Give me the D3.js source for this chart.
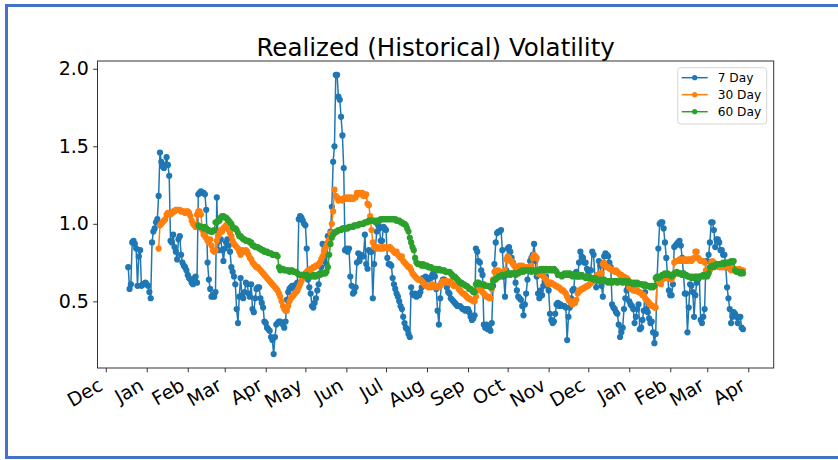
<!DOCTYPE html>
<html>
<head>
<meta charset="utf-8">
<script src="https://cdn.jsdelivr.net/npm/d3@7"></script>
<style>
  html, body { margin: 0; padding: 0; background: #ffffff; }
  svg { display: block; }
  text { font-family: "DejaVu Sans", sans-serif; }
</style>
</head>
<body>
<svg id="chart" width="838" height="460"></svg>
<script>
// ---------------- DATA ----------------
const seriesNames = ["7 Day", "30 Day", "60 Day"];
const seriesStart = ["2020-12-18", "2021-01-10", "2021-02-09"]; // first date of each daily series
const monthTicks = ["2020-12-01","2021-01-01","2021-02-01","2021-03-01","2021-04-01","2021-05-01","2021-06-01","2021-07-01","2021-08-01","2021-09-01","2021-10-01","2021-11-01","2021-12-01","2022-01-01","2022-02-01","2022-03-01","2022-04-01"];
const yTicks = [0.5, 1.0, 1.5, 2.0];

const vol7 = [
0.72,0.58,0.61,0.88,0.89,0.87,0.84,0.60,0.79,0.83,
0.60,0.61,0.61,0.62,0.61,0.60,0.56,0.52,0.88,0.95,
0.97,1.01,1.03,1.18,1.46,1.40,1.37,1.36,1.38,1.43,
1.38,1.31,0.89,0.88,0.93,0.85,0.82,0.77,0.90,0.92,
0.80,0.75,0.73,0.72,0.70,0.67,0.65,0.64,0.62,0.61,
0.65,0.66,0.62,1.19,1.20,1.21,1.20,1.20,1.19,1.09,
0.75,0.64,0.58,0.53,0.54,0.53,0.56,1.17,0.83,0.89,
0.90,0.83,0.76,0.84,0.88,0.90,0.86,0.82,0.72,0.69,
0.66,0.61,0.45,0.36,0.53,0.65,0.54,0.52,0.56,0.62,
0.61,0.55,0.53,0.61,0.45,0.43,0.52,0.58,0.59,0.59,
0.52,0.49,0.46,0.37,0.36,0.33,0.32,0.31,0.27,0.25,
0.16,0.27,0.35,0.36,0.37,0.37,0.36,0.35,0.33,0.37,
0.51,0.56,0.58,0.59,0.60,0.60,0.58,0.61,0.62,1.03,
1.05,1.04,1.02,1.00,0.99,0.84,0.64,0.59,0.55,0.47,
0.46,0.49,0.52,0.57,0.61,0.68,0.72,0.87,0.76,0.84,
0.74,0.92,0.88,0.95,1.11,1.40,1.50,1.96,1.96,1.82,
1.80,1.69,1.57,1.36,0.83,0.84,0.82,0.84,0.66,0.60,
0.55,0.56,0.59,0.75,0.81,0.76,0.80,0.79,0.79,0.93,
0.74,0.71,0.83,0.82,0.82,0.52,0.74,0.85,0.95,0.99,
0.97,0.89,0.89,0.98,0.97,0.96,0.78,0.74,0.74,0.73,
0.65,0.61,0.58,0.55,0.53,0.50,0.47,0.45,0.40,0.36,
0.33,0.32,0.29,0.27,0.59,0.55,0.54,0.55,0.53,0.54,
0.54,0.56,0.59,0.65,0.65,0.66,0.65,0.64,0.65,0.65,
0.67,0.68,0.66,0.58,0.44,0.35,0.52,0.62,0.64,0.64,
0.62,0.59,0.56,0.55,0.52,0.51,0.50,0.49,0.48,0.47,
0.47,0.47,0.46,0.45,0.45,0.44,0.45,0.45,0.43,0.40,
0.38,0.39,0.41,0.84,0.82,0.76,0.75,0.70,0.67,0.35,
0.33,0.35,0.32,0.33,0.31,0.36,0.60,0.74,0.88,0.94,
0.95,0.95,0.96,0.83,0.66,0.53,0.70,0.84,0.85,0.82,
0.78,0.75,0.68,0.62,0.57,0.53,0.52,0.51,0.47,0.41,
0.48,0.55,0.64,0.70,0.76,0.78,0.80,0.87,0.76,0.66,
0.55,0.52,0.57,0.54,0.60,0.63,0.66,0.60,0.57,0.42,
0.38,0.36,0.37,0.42,0.48,0.49,0.47,0.48,0.47,0.47,
0.47,0.46,0.25,0.40,0.46,0.52,0.57,0.58,0.68,0.69,
0.66,0.75,0.82,0.79,0.78,0.75,0.75,0.71,0.69,0.70,
0.70,0.82,0.80,0.65,0.59,0.64,0.76,0.73,0.60,0.53,
0.79,0.81,0.80,0.79,0.75,0.72,0.48,0.46,0.45,0.43,
0.42,0.35,0.27,0.30,0.33,0.45,0.52,0.57,0.59,0.50,
0.48,0.47,0.45,0.36,0.40,0.45,0.48,0.32,0.33,0.38,
0.44,0.56,0.45,0.43,0.39,0.36,0.37,0.30,0.23,0.29,
0.64,0.84,1.00,1.01,1.01,0.97,0.88,0.78,0.66,0.57,
0.54,0.54,0.61,0.85,0.86,0.87,0.88,0.89,0.86,0.78,
0.68,0.55,0.55,0.30,0.46,0.61,0.60,0.56,0.40,0.54,
0.62,0.64,0.66,0.38,0.36,0.40,0.45,0.76,0.76,0.80,
0.88,1.01,1.01,0.96,0.85,0.90,0.90,0.88,0.83,0.83,
0.80,0.80,0.72,0.59,0.52,0.45,0.36,0.40,0.43,0.42,
0.40,0.36,0.40,0.40,0.33,0.32
];

const vol30 = [
0.84,0.99,1.00,1.01,1.02,1.03,1.06,1.07,1.06,1.06,
1.07,1.08,1.08,1.09,1.09,1.09,1.09,1.08,1.08,1.08,
1.07,1.08,1.08,1.07,1.05,1.02,1.00,0.99,0.98,1.06,
1.08,1.08,1.06,0.96,0.93,0.92,0.91,0.89,0.88,0.90,
0.86,0.83,0.82,0.83,0.89,0.92,0.94,0.96,0.95,0.97,
0.98,0.99,1.00,0.96,0.94,0.92,0.89,0.87,0.86,0.85,
0.84,0.82,0.80,0.83,0.82,0.82,0.83,0.82,0.80,0.78,
0.77,0.75,0.74,0.73,0.72,0.72,0.71,0.70,0.69,0.68,
0.67,0.66,0.65,0.64,0.63,0.62,0.61,0.60,0.59,0.58,
0.57,0.55,0.53,0.50,0.47,0.45,0.44,0.44,0.47,0.50,
0.52,0.53,0.54,0.55,0.56,0.57,0.59,0.61,0.63,0.65,
0.66,0.68,0.69,0.70,0.70,0.71,0.71,0.72,0.72,0.73,
0.73,0.74,0.75,0.77,0.79,0.82,0.84,0.86,0.88,0.90,
0.94,1.00,1.08,1.22,1.18,1.17,1.15,1.16,1.16,1.15,
1.16,1.17,1.16,1.17,1.16,1.17,1.16,1.16,1.17,1.17,
1.20,1.19,1.20,1.19,1.20,1.18,1.18,1.19,1.13,1.12,
1.05,0.96,0.88,0.85,0.85,0.84,0.85,0.84,0.84,0.85,
0.84,0.85,0.85,0.85,0.84,0.85,0.84,0.83,0.82,0.81,
0.82,0.80,0.79,0.78,0.79,0.76,0.75,0.74,0.73,0.72,
0.72,0.70,0.68,0.67,0.66,0.65,0.64,0.64,0.64,0.63,
0.62,0.61,0.60,0.60,0.59,0.60,0.59,0.61,0.60,0.60,
0.59,0.60,0.59,0.60,0.62,0.63,0.62,0.63,0.63,0.62,
0.62,0.63,0.61,0.60,0.61,0.60,0.60,0.58,0.57,0.56,
0.55,0.55,0.54,0.53,0.52,0.52,0.51,0.51,0.50,0.50,
0.53,0.57,0.58,0.58,0.57,0.56,0.55,0.54,0.53,0.53,
0.52,0.52,0.58,0.64,0.69,0.70,0.69,0.70,0.69,0.68,
0.69,0.68,0.70,0.77,0.79,0.78,0.76,0.76,0.74,0.73,
0.72,0.71,0.71,0.73,0.72,0.73,0.72,0.71,0.72,0.71,
0.72,0.71,0.73,0.78,0.80,0.79,0.78,0.68,0.68,0.67,
0.67,0.66,0.65,0.64,0.62,0.61,0.62,0.62,0.61,0.61,
0.60,0.60,0.59,0.59,0.58,0.57,0.57,0.56,0.55,0.53,
0.51,0.50,0.49,0.48,0.50,0.49,0.51,0.55,0.57,0.57,
0.58,0.58,0.59,0.59,0.60,0.60,0.61,0.62,0.63,0.63,
0.65,0.66,0.67,0.67,0.68,0.68,0.74,0.75,0.73,0.72,
0.72,0.71,0.71,0.70,0.70,0.69,0.70,0.69,0.68,0.67,
0.67,0.66,0.66,0.65,0.65,0.64,0.59,0.58,0.58,0.57,
0.57,0.57,0.57,0.56,0.56,0.55,0.54,0.54,0.52,0.51,
0.50,0.49,0.48,0.47,0.47,0.46,0.46,0.63,0.63,0.62,
0.61,0.64,0.65,0.66,0.65,0.65,0.66,0.65,0.64,0.66,
0.75,0.76,0.76,0.76,0.77,0.76,0.77,0.77,0.76,0.77,
0.76,0.77,0.77,0.76,0.77,0.78,0.82,0.82,0.78,0.77,
0.76,0.76,0.76,0.75,0.70,0.70,0.69,0.70,0.75,0.76,
0.75,0.74,0.73,0.73,0.72,0.73,0.72,0.73,0.72,0.72,
0.73,0.72,0.71,0.70,0.71,0.70,0.71,0.70,0.70,0.71,
0.70,0.70,0.70
];

const vol60 = [
0.99,0.98,0.98,0.98,0.97,0.98,0.97,0.96,0.96,0.95,
0.95,0.95,0.96,1.01,1.01,1.02,1.02,1.04,1.05,1.05,
1.04,1.04,1.03,1.02,1.01,1.00,0.98,0.97,0.97,0.96,
0.94,0.92,0.92,0.91,0.90,0.90,0.89,0.89,0.89,0.88,
0.88,0.86,0.86,0.85,0.85,0.85,0.84,0.84,0.83,0.83,
0.82,0.82,0.82,0.81,0.81,0.81,0.80,0.80,0.80,0.80,
0.79,0.72,0.70,0.71,0.71,0.70,0.70,0.70,0.70,0.69,
0.70,0.70,0.69,0.69,0.69,0.68,0.67,0.67,0.67,0.67,
0.67,0.66,0.67,0.66,0.66,0.66,0.66,0.67,0.66,0.66,
0.67,0.67,0.67,0.68,0.68,0.68,0.68,0.69,0.72,0.80,
0.87,0.91,0.93,0.94,0.95,0.95,0.96,0.96,0.96,0.97,
0.97,0.97,0.97,0.97,0.98,0.98,0.98,0.98,0.99,0.99,
0.99,0.99,1.00,1.00,1.00,1.00,1.01,1.01,1.01,1.02,
1.02,1.02,1.02,1.02,1.01,1.02,1.02,1.02,1.03,1.03,
1.03,1.03,1.03,1.03,1.03,1.03,1.03,1.03,1.03,1.03,
1.02,1.02,1.02,1.01,1.01,1.00,1.00,0.99,0.97,0.95,
0.91,0.88,0.85,0.83,0.78,0.75,0.74,0.74,0.74,0.73,
0.74,0.73,0.73,0.73,0.72,0.72,0.72,0.71,0.71,0.71,
0.71,0.70,0.71,0.70,0.70,0.70,0.70,0.69,0.69,0.69,
0.69,0.68,0.67,0.66,0.66,0.65,0.64,0.63,0.62,0.62,
0.61,0.61,0.60,0.60,0.59,0.58,0.58,0.57,0.56,0.56,
0.61,0.62,0.62,0.61,0.61,0.61,0.61,0.60,0.60,0.60,
0.60,0.59,0.59,0.63,0.64,0.64,0.65,0.66,0.66,0.66,
0.67,0.67,0.67,0.67,0.68,0.68,0.67,0.68,0.68,0.68,
0.67,0.68,0.68,0.69,0.69,0.70,0.69,0.70,0.70,0.70,
0.70,0.70,0.69,0.70,0.70,0.69,0.70,0.70,0.70,0.71,
0.70,0.71,0.70,0.71,0.70,0.70,0.71,0.70,0.70,0.71,
0.70,0.69,0.67,0.67,0.67,0.66,0.67,0.68,0.67,0.68,
0.67,0.68,0.67,0.66,0.67,0.67,0.66,0.67,0.66,0.66,
0.67,0.66,0.66,0.65,0.66,0.65,0.66,0.65,0.65,0.64,
0.65,0.64,0.64,0.64,0.63,0.64,0.63,0.64,0.63,0.63,
0.62,0.63,0.63,0.62,0.63,0.63,0.63,0.62,0.63,0.63,
0.63,0.62,0.63,0.63,0.62,0.63,0.62,0.62,0.62,0.61,
0.62,0.61,0.62,0.61,0.61,0.61,0.61,0.60,0.61,0.60,
0.60,0.60,0.59,0.60,0.59,0.60,0.65,0.66,0.65,0.66,
0.66,0.67,0.67,0.68,0.67,0.68,0.67,0.67,0.66,0.67,
0.68,0.68,0.69,0.68,0.68,0.68,0.67,0.68,0.67,0.67,
0.66,0.66,0.66,0.65,0.66,0.65,0.66,0.66,0.65,0.66,
0.66,0.66,0.67,0.66,0.67,0.66,0.68,0.72,0.72,0.73,
0.72,0.73,0.74,0.74,0.74,0.74,0.74,0.75,0.74,0.75,
0.75,0.75,0.75,0.76,0.75,0.76,0.70,0.69,0.69,0.69,
0.68,0.69,0.68
];

const seriesValues = [vol7, vol30, vol60];
const seriesColors = ["#1f77b4", "#ff7f0e", "#2ca02c"];

// ---------------- LAYOUT ----------------
const svg = d3.select("#chart");
const W = 838, H = 460;
const plot = { left: 97.5, right: 773.7, top: 61, bottom: 368 };

// frame
svg.append("rect").attr("x", 0).attr("y", 0).attr("width", W).attr("height", H).attr("fill", "#ffffff");
const frameColor = "#4472c4";
svg.append("rect").attr("x", 5).attr("y", 4).attr("width", W - 5).attr("height", 3).attr("fill", frameColor);
svg.append("rect").attr("x", 5).attr("y", 456).attr("width", W - 5).attr("height", 3).attr("fill", frameColor);
svg.append("rect").attr("x", 5).attr("y", 4).attr("width", 3).attr("height", 455).attr("fill", frameColor);

const parse = d3.utcParse("%Y-%m-%d");
const series = seriesValues.map((vals, s) => {
  const t0 = parse(seriesStart[s]);
  return {
    name: seriesNames[s],
    color: seriesColors[s],
    points: vals.map((v, i) => ({ date: d3.utcDay.offset(t0, i), value: v }))
  };
});

const allPts = series.flatMap(s => s.points);
const [tMin, tMax] = d3.extent(allPts, d => d.date);
const tPad = (tMax - tMin) * 0.05;
const [vMin, vMax] = d3.extent(allPts, d => d.value);
const vPad = (vMax - vMin) * 0.05;

const x = d3.scaleUtc()
  .domain([new Date(+tMin - tPad), new Date(+tMax + tPad)])
  .range([plot.left, plot.right]);
const y = d3.scaleLinear()
  .domain([vMin - vPad, vMax + vPad])
  .range([plot.bottom, plot.top]);

// title
svg.append("text")
  .attr("x", (plot.left + plot.right) / 2)
  .attr("y", 55.5)
  .attr("text-anchor", "middle")
  .attr("font-size", "24.5px")
  .attr("fill", "#000")
  .text("Realized (Historical) Volatility");

// clip
svg.append("clipPath").attr("id", "clip")
  .append("rect").attr("x", plot.left).attr("y", plot.top)
  .attr("width", plot.right - plot.left).attr("height", plot.bottom - plot.top);

const gData = svg.append("g").attr("clip-path", "url(#clip)");
const line = d3.line().x(d => x(d.date)).y(d => y(d.value));

series.forEach(s => {
  const g = gData.append("g");
  g.append("path")
    .attr("d", line(s.points))
    .attr("fill", "none")
    .attr("stroke", s.color)
    .attr("stroke-width", 1.5)
    .attr("stroke-linejoin", "round");
  g.selectAll("circle").data(s.points).join("circle")
    .attr("cx", d => x(d.date))
    .attr("cy", d => y(d.value))
    .attr("r", 3.1)
    .attr("fill", s.color);
});

// axes
const tickLen = 4.3;
const xAxis = d3.axisBottom(x)
  .tickValues(monthTicks.map(parse))
  .tickFormat(d3.utcFormat("%b"))
  .tickSize(tickLen)
  .tickPadding(4.3);
const gx = svg.append("g").attr("transform", `translate(0,${plot.bottom})`).call(xAxis);
gx.select(".domain").remove();
gx.selectAll(".tick line").attr("stroke", "#333").attr("stroke-width", 1);
const fsTick = 19;
gx.selectAll(".tick text")
  .attr("font-size", fsTick + "px")
  .attr("font-family", "DejaVu Sans, sans-serif")
  .attr("fill", "#000")
  .attr("text-anchor", "end")
  .attr("dy", null)
  .attr("y", null)
  .attr("transform", `translate(${-0.5 * 0.236 * fsTick},${tickLen + 4.3 + 0.866 * 0.76 * fsTick}) rotate(-30)`);

const yAxis = d3.axisLeft(y)
  .tickValues(yTicks)
  .tickFormat(d3.format(".1f"))
  .tickSize(tickLen)
  .tickPadding(4.3);
const gy = svg.append("g").attr("transform", `translate(${plot.left},0)`).call(yAxis);
gy.select(".domain").remove();
gy.selectAll(".tick line").attr("stroke", "#333").attr("stroke-width", 1);
gy.selectAll(".tick text")
  .attr("font-size", fsTick + "px")
  .attr("font-family", "DejaVu Sans, sans-serif")
  .attr("fill", "#000");

// frame of the axes
svg.append("rect")
  .attr("x", plot.left).attr("y", plot.top)
  .attr("width", plot.right - plot.left).attr("height", plot.bottom - plot.top)
  .attr("fill", "none").attr("stroke", "#333").attr("stroke-width", 1);

// legend
const lg = svg.append("g");
const lgBox = { x: 677.7, y: 67.7, w: 89, h: 56.3 };
lg.append("rect")
  .attr("x", lgBox.x).attr("y", lgBox.y).attr("width", lgBox.w).attr("height", lgBox.h)
  .attr("rx", 3).attr("fill", "#fff").attr("fill-opacity", 0.8)
  .attr("stroke", "#d6d6d6").attr("stroke-width", 1);
series.forEach((s, i) => {
  const cy = 77.7 + i * 17;
  lg.append("line").attr("x1", 681.7).attr("x2", 707.7).attr("y1", cy).attr("y2", cy)
    .attr("stroke", s.color).attr("stroke-width", 1.5);
  lg.append("circle").attr("cx", 694.7).attr("cy", cy).attr("r", 2.6).attr("fill", s.color);
  lg.append("text").attr("x", 717.7).attr("y", cy).attr("dy", "0.35em")
    .attr("font-size", "12.2px").attr("fill", "#000").text(s.name);
});
</script>
</body>
</html>
